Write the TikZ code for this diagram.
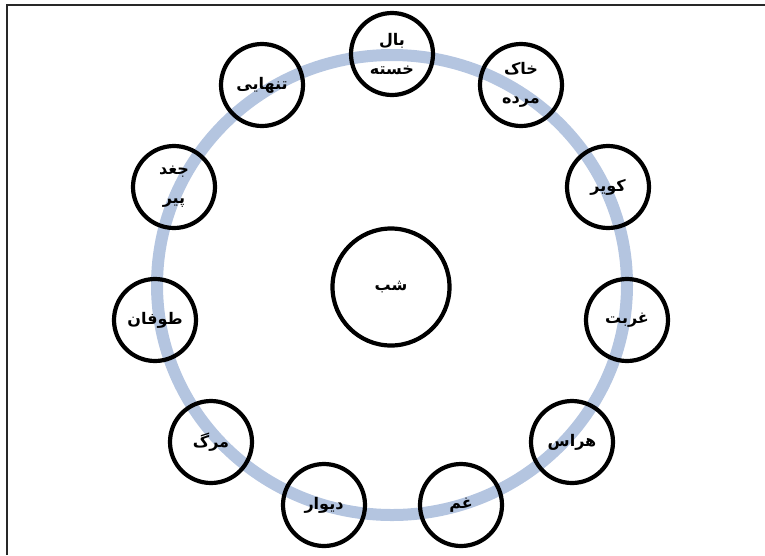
\documentclass[tikz,border=0pt]{standalone}
\usepackage{fontspec}
\TeXXeTstate=1
\newfontfamily\arabicfont[Script=Arabic,BoldFont={DejaVu Sans Bold}]{DejaVu Sans}
\newcommand{\fa}[1]{{\arabicfont\bfseries\beginR #1\endR}}
\definecolor{ringblue}{RGB}{180,197,224}
\definecolor{framegray}{RGB}{40,40,40}
\tikzset{
  word/.style={circle, draw=black, line width=4.2pt, minimum size=82pt, inner sep=0pt,
    align=center, font=\fontsize{16}{29}\selectfont},
  hub/.style={word, minimum size=117pt},
  ringline/.style={draw=ringblue, line width=12pt},
  framelines/.style={draw=framegray, line width=1.8pt}
}
\begin{document}
\begin{tikzpicture}[x=1pt,y=-1pt]
\useasboundingbox (0,0) rectangle (765,555);
\coordinate (fa) at (7,555);
\coordinate (fb) at (7,5);
\coordinate (fc) at (765,5);
\draw[framelines] (fa) -- (fb) -- (fc);
\coordinate (rc) at (392,285);
\draw[ringline] (rc) ellipse [x radius=235, y radius=230];
\node[hub] (shab) at (391,287) {\fa{شب}};
\node[word] (bal) at (392,54) {\fa{بال}\\\fa{خسته}};
\node[word] (khak) at (521,85) {\fa{خاک}\\\fa{مرده}};
\node[word] (kavir) at (608,187) {\fa{کویر}};
\node[word] (ghorbat) at (627,320) {\fa{غربت}};
\node[word] (haras) at (572,442) {\fa{هراس}};
\node[word] (gham) at (461,505) {\fa{غم}};
\node[word] (divar) at (324,505) {\fa{دیوار}};
\node[word] (marg) at (211,442) {\fa{مرگ}};
\node[word] (toofan) at (155,320) {\fa{طوفان}};
\node[word] (joghd) at (174,187) {\fa{جغد}\\\fa{پیر}};
\node[word] (tanhaei) at (262,85) {\fa{تنهایی}};
\end{tikzpicture}
\end{document}
